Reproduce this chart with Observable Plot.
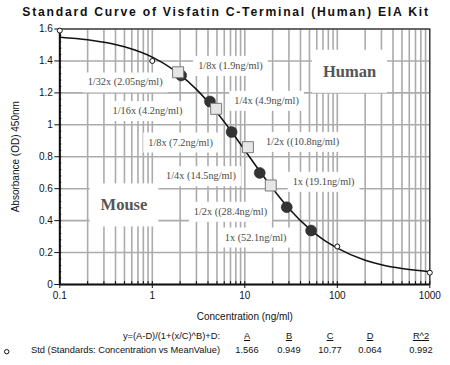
<!DOCTYPE html>
<html>
<head>
<meta charset="utf-8">
<script src="https://cdn.jsdelivr.net/npm/d3@7"></script>
<script src="https://cdn.jsdelivr.net/npm/@observablehq/plot@0.6"></script>
<style>
  html, body { margin: 0; padding: 0; background: white; }
  #wrap { position: relative; width: 450px; height: 365px; overflow: hidden; font-family: "Liberation Sans", Arial, sans-serif; }
  #title { position: absolute; left: 1px; top: 5.5px; width: 450px; text-align: center; font-weight: bold; font-size: 12.2px; line-height: 12px; letter-spacing: 1.75px; color: #111; }
  .t { position: absolute; font-size: 9.3px; line-height: 10px; color: #111; white-space: nowrap; }
  .r { transform: translateX(-100%); }
  .c { transform: translateX(-50%); }
  .u { text-decoration: underline; }
  #chart { position: absolute; left: 0; top: 0; }
</style>
</head>
<body>
<div id="wrap">
  <div id="chart"></div>
  <div id="title">Standard Curve of Visfatin C-Terminal (Human) EIA Kit</div>
  <div id="table"></div>
</div>
<script>
// ---- data ----
const stdConc = [0.1, 1, 100, 1000];
const stdOD = [1.59, 1.40, 0.238, 0.074];

const mouseConc = [2.05, 4.2, 7.2, 14.5, 28.4, 52.1];
const mouseOD = [1.309, 1.146, 0.955, 0.699, 0.484, 0.338];

const humanConc = [1.9, 4.9, 10.8, 19.1];
const humanOD = [1.329, 1.100, 0.860, 0.620];

const curveConc = [0.1, 0.2, 0.5, 1, 2, 3, 5, 7, 10, 15, 20, 30, 50, 70, 100, 200, 300, 500, 1000];
const curveOD = [1.549, 1.533, 1.489, 1.424, 1.313, 1.222, 1.077, 0.966, 0.841, 0.698, 0.601, 0.476, 0.348, 0.282, 0.228, 0.152, 0.124, 0.100, 0.080];

const labelText = ["1/8x (1.9ng/ml)", "1/4x (4.9ng/ml)", "1/2x ((10.8ng/ml)", "1x (19.1ng/ml)",
                   "1/32x (2.05ng/ml)", "1/16x (4.2ng/ml)", "1/8x (7.2ng/ml)", "1/4x (14.5ng/ml)", "1/2x ((28.4ng/ml)", "1x (52.1ng/ml)"];
const labelX = [7.0, 17.2, 42.1, 71, 0.509, 0.887, 2.02, 3.36, 7.0, 13.1];
const labelY = [1.371, 1.152, 0.895, 0.645, 1.267, 1.088, 0.891, 0.680, 0.457, 0.296];

const groupText = ["Human", "Mouse"];
const groupX = [135.5, 0.494];
const groupY = [1.334, 0.497];

const xTickLabels = [0.1, 1, 10, 100, 1000];
const yTickLabels = [0, 0.2, 0.4, 0.6, 0.8, 1, 1.2, 1.4, 1.6];

const paramNames = ["A", "B", "C", "D", "R^2"];
const paramValues = ["1.566", "0.949", "10.77", "0.064", "0.992"];
const equationText = "y=(A-D)/(1+(x/C)^B)+D:";
const seriesName = "Std (Standards: Concentration vs MeanValue)";

// ---- tables built from the arrays ----
const std = stdConc.map((x, i) => ({x, y: stdOD[i]}));
const mouse = mouseConc.map((x, i) => ({x, y: mouseOD[i]}));
const human = humanConc.map((x, i) => ({x, y: humanOD[i]}));
const curve = curveConc.map((x, i) => ({x, y: curveOD[i]}));
const labels = labelText.map((t, i) => ({t, x: labelX[i], y: labelY[i]}));
const groups = groupText.map((t, i) => ({t, x: groupX[i], y: groupY[i]}));

const xMinor = d3.scaleLog().domain([0.1, 1000]).ticks(10);
const yMinor = d3.range(0, 1.6001, 0.04);

const gridColor = "#ababab";

const chart = Plot.plot({
  width: 450,
  height: 365,
  marginTop: 28.5,
  marginBottom: 81,
  marginLeft: 59.3,
  marginRight: 20.7,
  style: {fontFamily: "'Liberation Sans', Arial, sans-serif", fontSize: "10px", color: "#111", background: "white"},
  x: {type: "log", domain: [0.1, 1000]},
  y: {domain: [0, 1.6]},
  marks: [
    Plot.gridX(xMinor, {stroke: gridColor, strokeOpacity: 1, strokeWidth: 1.6}),
    Plot.gridY(yTickLabels, {stroke: gridColor, strokeOpacity: 1, strokeWidth: 1.6}),
    Plot.text(labels, {x: "x", y: "y", text: "t", className: "lbl", fontFamily: "'Liberation Serif', 'Times New Roman', serif", fontSize: 10.3, fill: "#4a4a4a"}),
    Plot.text(groups, {x: "x", y: "y", text: "t", className: "grp", fontFamily: "'Liberation Serif', 'Times New Roman', serif", fontSize: 16.5, fontWeight: "bold", fill: "#555"}),
    Plot.frame({stroke: "#111", strokeWidth: 1}),
    Plot.ruleX([0.1], {stroke: "#111", strokeWidth: 2}),
    Plot.ruleY([0], {stroke: "#111", strokeWidth: 2}),
    Plot.axisX(xTickLabels, {tickFormat: d => String(d), tickSize: 4, tickPadding: 3, label: "Concentration (ng/ml)", labelAnchor: "center", labelOffset: 35, labelArrow: false, fontSize: 10}),
    Plot.axisX(xMinor, {tickSize: 3, dy: -3, text: null, label: null}),
    Plot.axisY(yTickLabels, {tickFormat: d => String(d), tickSize: 5, tickPadding: 2, label: "Absorbance (OD) 450nm", labelAnchor: "center", labelOffset: 48, labelArrow: false, fontSize: 10}),
    Plot.axisY(yMinor, {tickSize: 2, dx: 2, text: null, label: null}),
    Plot.line(curve, {x: "x", y: "y", stroke: "#111", strokeWidth: 1.5, curve: "monotone-x"}),
    Plot.dot(std, {x: "x", y: "y", r: 2.5, stroke: "#111", strokeWidth: 1, fill: "white"}),
    Plot.dot(mouse, {x: "x", y: "y", r: 5.5, fill: "#333", stroke: "#222", strokeWidth: 0.5}),
    Plot.dot(human, {x: "x", y: "y", symbol: "square", r: 6.2, fill: "#e6e6e6", stroke: "#7a7a7a", strokeWidth: 1})
  ]
});
document.getElementById("chart").append(chart);

// white boxes behind the annotation labels (they interrupt the grid as in the reference)
d3.select(chart).selectAll("g.lbl, g.grp").each(function () {
  const g = d3.select(this);
  const big = this.classList.contains("grp");
  const px = big ? 11 : 5, py = big ? 12 : 4;
  const texts = g.selectAll("text").nodes();
  texts.forEach(t => {
    const b = t.getBBox();
    g.insert("rect", ":first-child")
      .attr("x", b.x - px).attr("y", b.y - py)
      .attr("width", b.width + 2 * px).attr("height", b.height + 2 * py)
      .attr("fill", "white")
      .attr("transform", t.getAttribute("transform"));
  });
});

// parameter table under the chart
const table = d3.select("#table");
const colX = [247, 289, 330, 370, 421];
table.append("div").attr("class", "t r").style("left", "220px").style("top", "330.5px").text(equationText);
table.append("div").attr("class", "t r").style("left", "220px").style("top", "344.5px").text(seriesName);
paramNames.forEach((n, i) => {
  table.append("div").attr("class", "t c u").style("left", colX[i] + "px").style("top", "330.5px").text(n);
  table.append("div").attr("class", "t c").style("left", colX[i] + "px").style("top", "344.5px").text(paramValues[i]);
});
d3.select("#wrap").append("svg").attr("width", 10).attr("height", 10)
  .style("position", "absolute").style("left", "2px").style("top", "347px")
  .append("circle").attr("cx", 4.7).attr("cy", 4.7).attr("r", 2.2)
  .attr("fill", "white").attr("stroke", "#111").attr("stroke-width", 1);
</script>
</body>
</html>
